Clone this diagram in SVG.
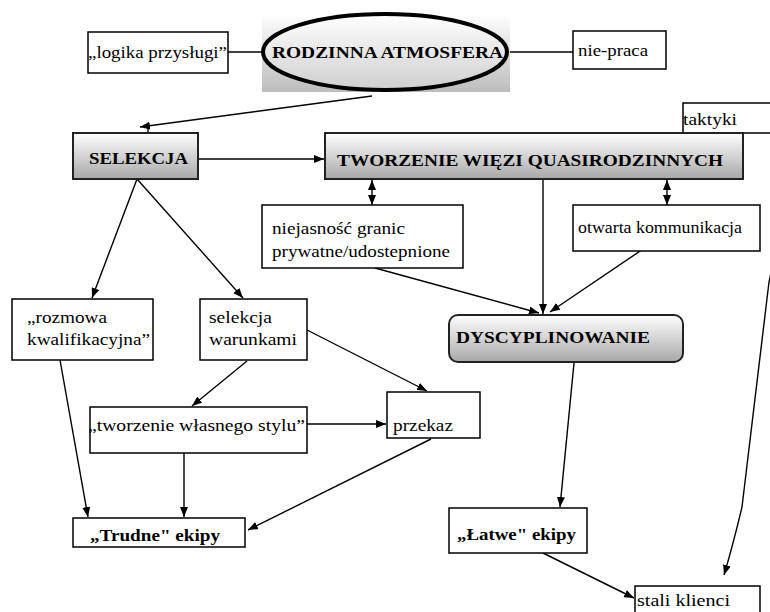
<svg xmlns="http://www.w3.org/2000/svg" width="770" height="612" viewBox="0 0 770 612" font-family="Liberation Serif, DejaVu Serif, serif">
<defs>
<linearGradient id="gBox" x1="0" y1="0" x2="0" y2="1">
<stop offset="0" stop-color="#ffffff"/>
<stop offset="1" stop-color="#a8a8a8"/>
</linearGradient>
<linearGradient id="gRect" x1="0" y1="0" x2="0" y2="1">
<stop offset="0" stop-color="#ffffff"/>
<stop offset="1" stop-color="#bdbdbd"/>
</linearGradient>
<linearGradient id="gEll" x1="0" y1="0" x2="0" y2="1">
<stop offset="0" stop-color="#ffffff"/>
<stop offset="1" stop-color="#cfcfcf"/>
</linearGradient>
<marker id="arr" viewBox="0 0 10 8" refX="10" refY="4" markerWidth="10" markerHeight="8" markerUnits="userSpaceOnUse" orient="auto-start-reverse">
<path d="M0,0 L10,4 L0,8 Z" fill="#000"/>
</marker>
<style>
.box{fill:#fff;stroke:#000;stroke-width:1.5}
.gbox{fill:url(#gBox);stroke:#222;stroke-width:2}
.t{font-size:16px;fill:#000}
.b{font-size:16px;font-weight:bold;fill:#000}
.c{fill:none;stroke:#000;stroke-width:1.4}
</style>
</defs>

<g id="connectors">
<line class="c" x1="228" y1="52" x2="263" y2="52"/>
<line class="c" x1="507" y1="52" x2="573" y2="52"/>
<line class="c" x1="372" y1="96" x2="140" y2="127" marker-end="url(#arr)"/>
<line class="c" x1="148" y1="127" x2="148" y2="133"/>
<line class="c" x1="198" y1="159" x2="324" y2="159" marker-end="url(#arr)"/>
<line class="c" x1="372" y1="180" x2="372" y2="205" marker-start="url(#arr)" marker-end="url(#arr)"/>
<line class="c" x1="667" y1="180" x2="667" y2="205" marker-start="url(#arr)" marker-end="url(#arr)"/>
<line class="c" x1="543" y1="179" x2="543" y2="314" marker-end="url(#arr)"/>
<line class="c" x1="375" y1="268" x2="539" y2="313" marker-end="url(#arr)"/>
<line class="c" x1="652" y1="243" x2="550" y2="312" marker-end="url(#arr)"/>
<line class="c" x1="137" y1="179" x2="92" y2="298" marker-end="url(#arr)"/>
<line class="c" x1="137" y1="179" x2="243" y2="298" marker-end="url(#arr)"/>
<line class="c" x1="307" y1="330" x2="427" y2="391" marker-end="url(#arr)"/>
<line class="c" x1="247" y1="361" x2="192" y2="406" marker-end="url(#arr)"/>
<line class="c" x1="307" y1="424" x2="386" y2="424" marker-end="url(#arr)"/>
<line class="c" x1="184" y1="453" x2="184" y2="517" marker-end="url(#arr)"/>
<line class="c" x1="60" y1="360" x2="88" y2="517" marker-end="url(#arr)"/>
<line class="c" x1="431" y1="439" x2="248" y2="530" marker-end="url(#arr)"/>
<line class="c" x1="574" y1="363" x2="560" y2="507" marker-end="url(#arr)"/>
<line class="c" x1="543" y1="553" x2="634" y2="598" marker-end="url(#arr)"/>
<path class="c" d="M800,140 L769,282 L742,507 Q733,545 724,575" marker-end="url(#arr)"/>
</g>

<g id="node-rodzinna">
<rect x="262" y="13" width="248" height="79" fill="url(#gRect)"/>
<ellipse cx="385" cy="52" rx="122" ry="38" fill="url(#gEll)" stroke="#000" stroke-width="4"/>
<text class="b" x="272" y="58" textLength="231" lengthAdjust="spacingAndGlyphs">RODZINNA ATMOSFERA</text>
</g>

<g id="node-logika">
<rect class="box" x="88" y="32" width="140" height="41"/>
<text class="t" x="88" y="58" textLength="139" lengthAdjust="spacingAndGlyphs">„logika przysługi”</text>
</g>

<g id="node-niepraca">
<rect class="box" x="573" y="31" width="93" height="38"/>
<text class="t" x="578" y="56" textLength="70" lengthAdjust="spacingAndGlyphs">nie-praca</text>
</g>

<g id="node-taktyki">
<rect class="box" x="683" y="103" width="92" height="30"/>
<text class="t" x="683" y="125" textLength="54" lengthAdjust="spacingAndGlyphs">taktyki</text>
</g>

<g id="node-selekcja">
<rect class="gbox" x="73" y="133" width="125" height="46"/>
<text class="b" x="89" y="164" textLength="99" lengthAdjust="spacingAndGlyphs">SELEKCJA</text>
</g>

<g id="node-tworzenie-wiezi">
<rect class="gbox" x="325" y="133" width="418" height="46"/>
<text class="b" x="337" y="166" textLength="386" lengthAdjust="spacingAndGlyphs">TWORZENIE WIĘZI QUASIRODZINNYCH</text>
</g>

<g id="node-niejasnosc">
<rect class="box" x="262" y="205" width="201" height="63"/>
<text class="t" x="272" y="234" textLength="133" lengthAdjust="spacingAndGlyphs">niejasność granic</text>
<text class="t" x="272" y="257" textLength="178" lengthAdjust="spacingAndGlyphs">prywatne/udostepnione</text>
</g>

<g id="node-otwarta">
<rect class="box" x="573" y="205" width="187" height="46"/>
<text class="t" x="578" y="233" textLength="164" lengthAdjust="spacingAndGlyphs">otwarta kommunikacja</text>
</g>

<g id="node-dyscyplinowanie">
<rect class="gbox" x="449" y="315" width="234" height="47" rx="9" ry="9"/>
<text class="b" x="456" y="343" textLength="194" lengthAdjust="spacingAndGlyphs">DYSCYPLINOWANIE</text>
</g>

<g id="node-rozmowa">
<rect class="box" x="12" y="299" width="141" height="61"/>
<text class="t" x="27" y="323" textLength="80" lengthAdjust="spacingAndGlyphs">„rozmowa</text>
<text class="t" x="27" y="345" textLength="123" lengthAdjust="spacingAndGlyphs">kwalifikacyjna”</text>
</g>

<g id="node-selekcja-warunkami">
<rect class="box" x="200" y="299" width="107" height="61"/>
<text class="t" x="209" y="323" textLength="63" lengthAdjust="spacingAndGlyphs">selekcja</text>
<text class="t" x="209" y="345" textLength="88" lengthAdjust="spacingAndGlyphs">warunkami</text>
</g>

<g id="node-tworzenie-stylu">
<rect class="box" x="90" y="407" width="217" height="46"/>
<text class="t" x="88" y="431" textLength="217" lengthAdjust="spacingAndGlyphs">„tworzenie własnego stylu”</text>
</g>

<g id="node-przekaz">
<rect class="box" x="387" y="392" width="93" height="46"/>
<text class="t" x="393" y="431" textLength="60" lengthAdjust="spacingAndGlyphs">przekaz</text>
</g>

<g id="node-trudne">
<rect class="box" x="73" y="518" width="172" height="29"/>
<text class="b" x="90" y="541" textLength="130" lengthAdjust="spacingAndGlyphs">„Trudne" ekipy</text>
</g>

<g id="node-latwe">
<rect class="box" x="449" y="508" width="138" height="45"/>
<text class="b" x="457" y="540" textLength="119" lengthAdjust="spacingAndGlyphs">„Łatwe" ekipy</text>
</g>

<g id="node-stali">
<rect class="box" x="635" y="586" width="125" height="40"/>
<text class="t" x="637" y="606" textLength="93" lengthAdjust="spacingAndGlyphs">stali klienci</text>
</g>
</svg>
